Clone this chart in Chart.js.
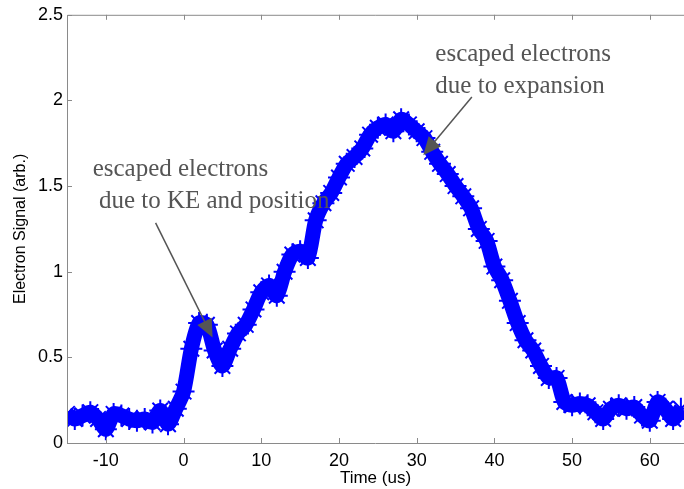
<!DOCTYPE html>
<html>
<head>
<meta charset="utf-8">
<script src="https://cdn.jsdelivr.net/npm/chart.js@4.4.0/dist/chart.umd.min.js"></script>
<style>
  html, body { margin: 0; padding: 0; background: #fff; overflow: hidden; }
  #wrap { width: 684px; height: 489px; }
</style>
</head>
<body>
<div id="wrap"><canvas id="signalChart" width="684" height="489"></canvas></div>
<script>
// electron signal (time in us)
const times = [-15, -14, -13, -12, -11, -10, -9, -8, -7, -6, -5, -4, -3, -2, -1,
    0, 1, 2, 3, 4, 5, 6, 7, 8, 9, 10, 11, 12, 13, 14, 15, 16, 17, 18, 19,
    20, 21, 22, 23, 24, 25, 26, 27, 28, 29, 30, 31, 32, 33, 34, 35, 36, 37, 38, 39,
    40, 41, 42, 43, 44, 45, 46, 47, 48, 49, 50, 51, 52, 53, 54, 55, 56, 57, 58, 59,
    60, 61, 62, 63, 64];
const signal = [0.17, 0.14, 0.16, 0.18, 0.14, 0.08, 0.17, 0.16, 0.14, 0.13, 0.14, 0.12, 0.19, 0.11, 0.2,
    0.3, 0.55, 0.7, 0.69, 0.54, 0.45, 0.55, 0.64, 0.69, 0.78, 0.88, 0.92, 0.86, 1.0, 1.1, 1.12, 1.08, 1.3, 1.4, 1.46,
    1.55, 1.63, 1.67, 1.72, 1.8, 1.84, 1.86, 1.82, 1.89, 1.86, 1.82, 1.78, 1.7, 1.63, 1.57, 1.5, 1.44, 1.37, 1.25, 1.18,
    1.03, 0.95, 0.83, 0.7, 0.6, 0.54, 0.45, 0.38, 0.38, 0.24, 0.22, 0.23, 0.22, 0.18, 0.14, 0.2, 0.22, 0.2, 0.21, 0.16,
    0.13, 0.24, 0.2, 0.14, 0.2];

const xTicks = [-10, 0, 10, 20, 30, 40, 50, 60];
const yTicks = [0, 0.5, 1, 1.5, 2, 2.5];
const yTickLabels = ['0', '0.5', '1', '1.5', '2', '2.5'];

// annotations, in data units
const notes = [
    { lines: ['escaped electrons', ' due to KE and position'], x: -11.7, y: 1.6, from: [-3.6, 1.285], to: [3.73, 0.616] },
    { lines: ['escaped electrons', 'due to expansion'], x: 32.4, y: 2.27, from: [37.1, 2.02], to: [30.85, 1.68] }
];

const points = times.map((t, i) => ({ x: t, y: signal[i] }));
const axisColor = '#8a8a8a';
const sans = '"Liberation Sans", Arial, sans-serif';

// box ticks pointing inward + arrows and labels
const frame = {
    id: 'frame',
    afterDatasetsDraw(chart) {
        const c = chart.ctx, a = chart.chartArea;
        const xs = chart.scales.x, ys = chart.scales.y;
        c.save();
        c.strokeStyle = axisColor;
        c.lineWidth = 1;
        c.beginPath();
        c.moveTo(a.left + 0.5, a.bottom + 0.5);
        c.lineTo(a.left + 0.5, a.top + 0.5);
        c.lineTo(a.right, a.top + 0.5);
        c.moveTo(a.left, a.bottom + 0.5);
        c.lineTo(a.right, a.bottom + 0.5);
        xTicks.forEach(v => {
            const px = Math.round(xs.getPixelForValue(v)) + 0.5;
            c.moveTo(px, a.bottom);
            c.lineTo(px, a.bottom - 5);
            c.moveTo(px, a.top);
            c.lineTo(px, a.top + 5);
        });
        yTicks.forEach(v => {
            const py = Math.round(ys.getPixelForValue(v)) + 0.5;
            c.moveTo(a.left, py);
            c.lineTo(a.left + 5, py);
        });
        c.stroke();

        c.fillStyle = '#555';
        c.strokeStyle = '#555';
        c.font = '25px "Liberation Serif", "Times New Roman", serif';
        c.textBaseline = 'middle';
        notes.forEach(n => {
            n.lines.forEach((s, k) => {
                c.fillText(s, xs.getPixelForValue(n.x), ys.getPixelForValue(n.y) + k * 32);
            });
            const x1 = xs.getPixelForValue(n.from[0]), y1 = ys.getPixelForValue(n.from[1]);
            const x2 = xs.getPixelForValue(n.to[0]), y2 = ys.getPixelForValue(n.to[1]);
            const ang = Math.atan2(y2 - y1, x2 - x1);
            c.lineWidth = 1.5;
            c.beginPath();
            c.moveTo(x1, y1);
            c.lineTo(x2 - 14 * Math.cos(ang), y2 - 14 * Math.sin(ang));
            c.stroke();
            c.beginPath();
            c.moveTo(x2, y2);
            c.lineTo(x2 - 18 * Math.cos(ang) + 8 * Math.sin(ang), y2 - 18 * Math.sin(ang) - 8 * Math.cos(ang));
            c.lineTo(x2 - 18 * Math.cos(ang) - 8 * Math.sin(ang), y2 - 18 * Math.sin(ang) + 8 * Math.cos(ang));
            c.closePath();
            c.fill();
        });
        c.restore();
    }
};

const ctx = document.getElementById('signalChart').getContext('2d');
const signalChart = new Chart(ctx, {
    type: 'line',
    data: {
        datasets: [{
            data: points,
            borderColor: '#0000ff',
            borderWidth: 15,
            pointRadius: 0,
            tension: 0.25
        }, {
            data: points,
            showLine: false,
            pointStyle: 'star',
            pointRadius: 11,
            borderWidth: 2,
            borderColor: '#0000ff',
            backgroundColor: '#0000ff'
        }]
    },
    options: {
        responsive: false,
        animation: false,
        layout: { autoPadding: false, padding: { top: 13, right: 0, left: 0, bottom: 0 } },
        plugins: { legend: { display: false }, tooltip: { enabled: false } },
        scales: {
            x: {
                type: 'linear',
                min: -15,
                max: 64.4,
                afterBuildTicks: s => { s.ticks = xTicks.map(v => ({ value: v })); },
                afterFit: s => { s.height = 46; },
                grid: { display: false, drawTicks: false },
                border: { display: false },
                ticks: { color: '#000', padding: 7, font: { family: sans, size: 18 } },
                title: {
                    display: true, text: 'Time (us)', color: '#000',
                    padding: { top: 0, bottom: 0 },
                    font: { family: sans, size: 17 }
                }
            },
            y: {
                min: 0,
                max: 2.5,
                afterBuildTicks: s => { s.ticks = yTicks.map(v => ({ value: v })); },
                afterFit: s => { s.width = 67; },
                grid: { display: false, drawTicks: false },
                border: { display: false },
                ticks: {
                    color: '#000', padding: 4,
                    font: { family: sans, size: 18 },
                    callback: v => yTickLabels[yTicks.indexOf(v)]
                },
                title: {
                    display: true, text: 'Electron Signal (arb.)', color: '#000',
                    padding: { top: 11, bottom: 0 },
                    font: { family: sans, size: 16 }
                }
            }
        }
    },
    plugins: [frame]
});
</script>
</body>
</html>
